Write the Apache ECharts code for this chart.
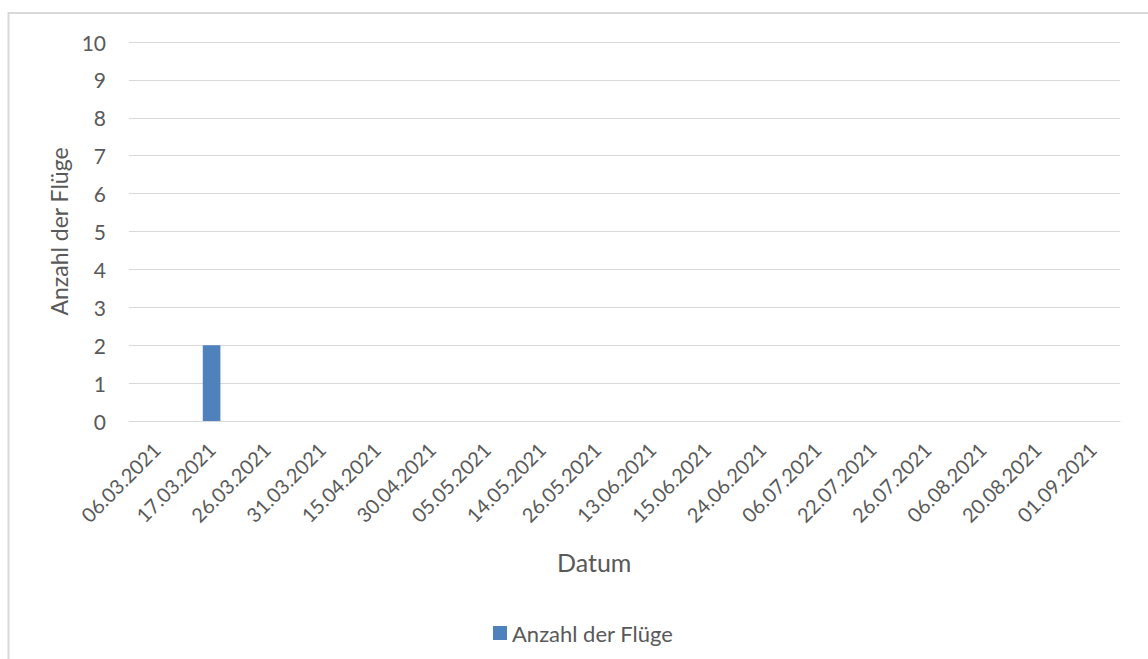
<!DOCTYPE html>
<html>
<head>
<meta charset="utf-8">
<script src="https://cdn.jsdelivr.net/npm/echarts@6/dist/echarts.min.js"></script>
<style>
  html, body { margin: 0; padding: 0; background: #ffffff; }
  #chart { width: 1148px; height: 659px; }
</style>
</head>
<body>
<div id="chart"></div>
<script>
// Flight dates and number of flights per date
const dates = [
  '06.03.2021', '17.03.2021', '26.03.2021', '31.03.2021', '15.04.2021',
  '30.04.2021', '05.05.2021', '14.05.2021', '26.05.2021', '13.06.2021',
  '15.06.2021', '24.06.2021', '06.07.2021', '22.07.2021', '26.07.2021',
  '06.08.2021', '20.08.2021', '01.09.2021'
];
const flights = [0, 2, 0, 0, 0, 0, 0, 0, 0, 0, 0, 0, 0, 0, 0, 0, 0, 0];
const yTicks = { min: 0, max: 10, interval: 1 };

const seriesName = 'Anzahl der Flüge';
const xTitle = 'Datum';
const yTitle = 'Anzahl der Flüge';

const textColor = '#595959';
const font = 'Lato, "Open Sans", sans-serif';

const chart = echarts.init(document.getElementById('chart'), null, { renderer: 'svg' });

chart.setOption({
  backgroundColor: '#ffffff',
  animation: false,
  textStyle: { fontFamily: font, color: textColor },
  grid: { left: 129, right: 28, top: 42, bottom: 238, containLabel: false },
  graphic: [
    {
      type: 'rect',
      shape: { x: 8.5, y: 13, width: 1200, height: 700 },
      style: { fill: 'none', stroke: '#d9d9d9', lineWidth: 2 },
      silent: true,
      z: -10
    },
    {
      type: 'text',
      left: 557,
      top: 549,
      style: { text: xTitle, font: '25px ' + font, fill: textColor }
    }
  ],
  legend: {
    top: 617,
    left: 488,
    itemWidth: 14,
    itemHeight: 14,
    itemGap: 10,
    icon: 'rect',
    textStyle: { fontSize: 22, color: textColor, fontFamily: font },
    data: [seriesName]
  },
  xAxis: {
    type: 'category',
    data: dates,
    axisLine: { show: true, lineStyle: { color: '#d9d9d9', width: 1 } },
    axisTick: { show: false },
    axisLabel: {
      rotate: 45,
      interval: 0,
      margin: 25,
      fontSize: 20,
      color: textColor,
      fontFamily: font
    }
  },
  yAxis: {
    type: 'value',
    min: yTicks.min,
    max: yTicks.max,
    interval: yTicks.interval,
    name: yTitle,
    nameLocation: 'middle',
    nameGap: 58,
    nameTextStyle: { fontSize: 23, color: textColor, fontFamily: font },
    axisLine: { show: false },
    axisTick: { show: false },
    axisLabel: { margin: 23, fontSize: 21, color: textColor, fontFamily: font },
    splitLine: { lineStyle: { color: '#d9d9d9', width: 1 } }
  },
  series: [
    {
      name: seriesName,
      type: 'bar',
      data: flights,
      barWidth: '32%',
      itemStyle: { color: '#4f81bd' }
    }
  ]
});
</script>
</body>
</html>
